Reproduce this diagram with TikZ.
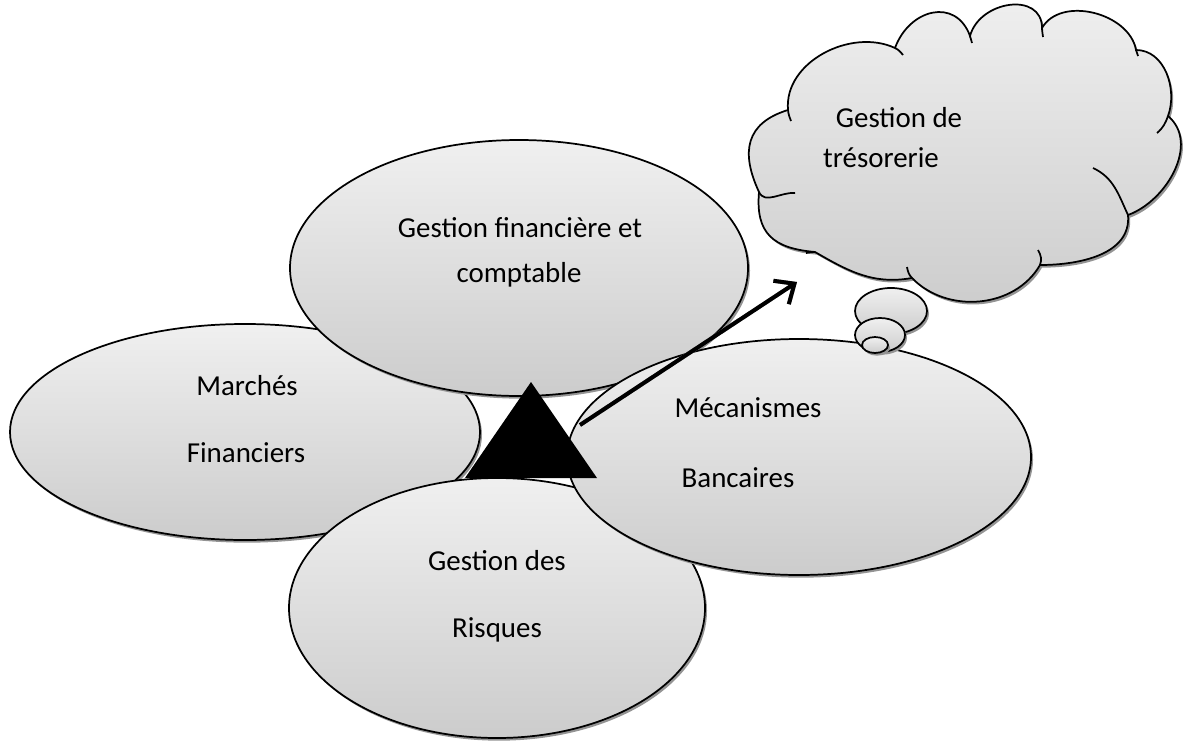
\documentclass[tikz,border=0pt]{standalone}
\usepackage{fontspec}
\setmainfont{Carlito}
\usetikzlibrary{shapes.geometric,shadows,arrows.meta}
\begin{document}
\begin{tikzpicture}[x=0.75pt,y=-0.75pt,
  every node/.style={font=\fontsize{21.7}{26}\selectfont},
  softshadow/.style={drop shadow={shadow xshift=1.5pt, shadow yshift=-2pt, fill=black!42, opacity=1}},
  greyfill/.style={top color=black!6, bottom color=black!20},
  bubble/.style={ellipse, draw=black, line width=1.3pt, inner sep=0pt, greyfill, softshadow},
  lbl/.style={anchor=base, inner sep=0pt},
  tail/.style={draw=black, line width=1.3pt}]
\useasboundingbox (0,0) rectangle (1191,742);

% Marchés financiers
\node[bubble, minimum width=352.5pt, minimum height=162pt] (mf) at (245,432) {};
\node[lbl] (mf1) at (247,395) {Marchés};
\node[lbl] (mf2) at (246,462) {Financiers};

% Gestion financière et comptable
\node[bubble, minimum width=343.5pt, minimum height=192pt] (gfc) at (519,268) {};
\node[lbl] (gfc1) at (520,237) {Gestion financière et};
\node[lbl] (gfc2) at (519,282) {comptable};

% Gestion des risques
\node[bubble, minimum width=312pt, minimum height=195pt] (gr) at (497,608) {};
\node[lbl] (gr1) at (497,570) {Gestion des};
\node[lbl] (gr2) at (497,637) {Risques};

% Mécanismes bancaires
\node[bubble, minimum width=348pt, minimum height=177pt] (mb) at (799,457) {};
\node[lbl] (mb1) at (748,417) {Mécanismes};
\node[lbl] (mb2) at (738,487) {Bancaires};

% central triangle
\fill[black] (531,382) -- (465,478) -- (597,478) -- cycle;

% arrow towards the cloud
\coordinate (arrS) at (580,425);
\coordinate (arrE) at (797,282);
\draw[black!42, line width=3pt, -{Straight Barb[length=12pt,width=21pt]}, shift={(2,3)}] (arrS) -- (arrE);
\draw[black, line width=3pt, -{Straight Barb[length=12pt,width=21pt]}] (arrS) -- (arrE);

% thought cloud (angles are given for the flipped y axis)
\path[draw=black, line width=1.3pt, greyfill, softshadow]
  (788,110) to[out=95,in=155] (895,48)
  to[out=70,in=110,looseness=1.4] (970,36)
  to[out=75,in=90,looseness=1.3] (1042,28)
  to[out=60,in=100] (1136,50)
  to[out=0,in=70] (1168,116)
  to[out=320,in=20] (1128,215)
  to[out=275,in=0] (1040,265)
  to[out=240,in=314] (912,278)
  to[out=190,in=330] (815,252)
  to[out=175,in=265,looseness=1.3] (759,192)
  to[out=115,in=197,looseness=1.3] cycle;
\draw[tail] (788,110) to[out=275,in=110] (791,121);
\draw[tail] (895,48) to[out=335,in=130] (903,55);
\draw[tail] (970,36) to[out=290,in=100] (972,43);
\draw[tail] (1042,28) to[out=270,in=95] (1043,37);
\draw[tail] (1136,50) to[out=280,in=105] (1138,56);
\draw[tail] (1168,116) to[out=250,in=40] (1157,133);
\draw[tail] (1093,168) to[out=335,in=115] (1128,215);
\draw[tail] (1038,250) to[out=300,in=70] (1040,265);
\draw[tail] (912,278) to[out=134,in=280] (907,267);
\draw[tail] (815,252) to[out=160,in=350] (806,253);
\draw[tail] (795,193) to[out=175,in=295] (759,192);
\node[lbl] (gt1) at (899,127) {Gestion de};
\node[lbl] (gt2) at (881,167) {trésorerie};

% thought bubbles
\node[bubble, minimum width=54pt, minimum height=34.5pt] (b1) at (891,311) {};
\node[bubble, minimum width=37.5pt, minimum height=25.5pt] (b2) at (880,335) {};
\node[bubble, minimum width=19.5pt, minimum height=12pt] (b3) at (875,345) {};
\end{tikzpicture}
\end{document}
